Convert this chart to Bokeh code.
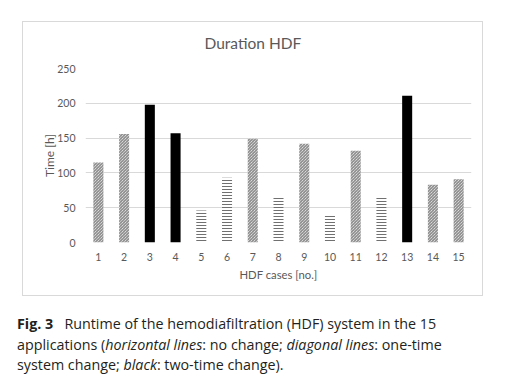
from bokeh.plotting import figure
from bokeh.models import ColumnDataSource, Div, FactorRange, Range1d, Spacer, Title
from bokeh.layouts import column, row
from bokeh.embed import file_html
from bokeh.resources import INLINE

cases = ["1", "2", "3", "4", "5", "6", "7", "8", "9", "10", "11", "12", "13", "14", "15"]
hours = [115, 156, 198, 157, 46, 93, 149, 64, 142, 41, 132, 64, 211, 83, 91]
changes = ["one", "one", "two", "two", "none", "none", "one", "none", "one",
           "none", "one", "none", "two", "one", "one"]
y_ticks = [0, 50, 100, 150, 200, 250]
chart_title = "Duration HDF"

hatch_map = {"none": "horizontal_line", "one": "left_diagonal_line", "two": " "}
fill_map = {"none": "white", "one": "white", "two": "black"}

source = ColumnDataSource(dict(
    x=cases,
    top=hours,
    hatch=[hatch_map[c] for c in changes],
    fill=[fill_map[c] for c in changes],
))

FONT = "Lato"
GREY = "#595959"

p = figure(
    x_range=FactorRange(*cases, range_padding=0),
    y_range=Range1d(0, 250),
    width=461, height=275,
    output_backend="svg", toolbar_location=None,
    min_border_left=62, min_border_right=13, min_border_top=46, min_border_bottom=55,
    title=chart_title,
)
p.styles = {"border": "1px solid #d9d9d9"}
p.margin = (0, 0, 0, 0)
p.outline_line_color = None

# small spacer title between the frame and the real title
p.add_layout(Title(text=" ", text_font_size="1px", standoff=14), "above")

p.vbar(x="x", top="top", width=0.39, source=source,
       fill_color="fill", line_color=None,
       hatch_pattern="hatch", hatch_color="#707070", hatch_scale=3, hatch_weight=1)

p.title.align = "left"
p.title.offset = 119
p.title.text_font = FONT
p.title.text_font_size = "15.5px"
p.title.text_font_style = "normal"
p.title.text_color = GREY
p.title.standoff = 0

p.yaxis.ticker = y_ticks
p.xgrid.grid_line_color = None
p.ygrid.grid_line_color = "#d9d9d9"
p.ygrid.grid_line_width = 1

for ax in (p.xaxis[0], p.yaxis[0]):
    ax.axis_line_color = None
    ax.major_tick_line_color = None
    ax.minor_tick_line_color = None
    ax.major_tick_out = 0
    ax.major_tick_in = 0
    ax.minor_tick_out = 0
    ax.major_label_text_font = FONT
    ax.major_label_text_font_size = "10.5px"
    ax.major_label_text_color = GREY
    ax.axis_label_text_font = FONT
    ax.axis_label_text_font_style = "normal"
    ax.axis_label_text_color = GREY

p.xaxis.axis_label = "HDF cases [no.]"
p.yaxis.axis_label = "Time [h]"
p.xaxis.axis_label_text_font_size = "11.3px"
p.yaxis.axis_label_text_font_size = "12px"
p.xaxis.major_label_standoff = 10
p.xaxis.axis_label_standoff = 4
p.yaxis.major_label_standoff = 10
p.yaxis.axis_label_standoff = -3

caption = Div(
    text=('<div style="font-family:\'Open Sans\';font-size:14.3px;line-height:20.5px;'
          'color:#231f20;white-space:nowrap">'
          '<b>Fig. 3</b>&nbsp;&nbsp; Runtime of the hemodiafiltration (HDF) system in the 15<br>'
          'applications (<i>horizontal lines</i>: no change; <i>diagonal lines</i>: one-time<br>'
          'system change; <i>black</i>: two-time change).</div>'),
    width=480, height=66, margin=(0, 0, 0, 0),
)

layout = column(
    Spacer(height=21, width=10, margin=(0, 0, 0, 0)),
    row(Spacer(width=22, height=10, margin=(0, 0, 0, 0)), p, margin=(0, 0, 0, 0)),
    Spacer(height=18, width=10, margin=(0, 0, 0, 0)),
    row(Spacer(width=17, height=10, margin=(0, 0, 0, 0)), caption, margin=(0, 0, 0, 0)),
    margin=(0, 0, 0, 0),
)

open("out.html", "w").write(file_html(layout, INLINE))
